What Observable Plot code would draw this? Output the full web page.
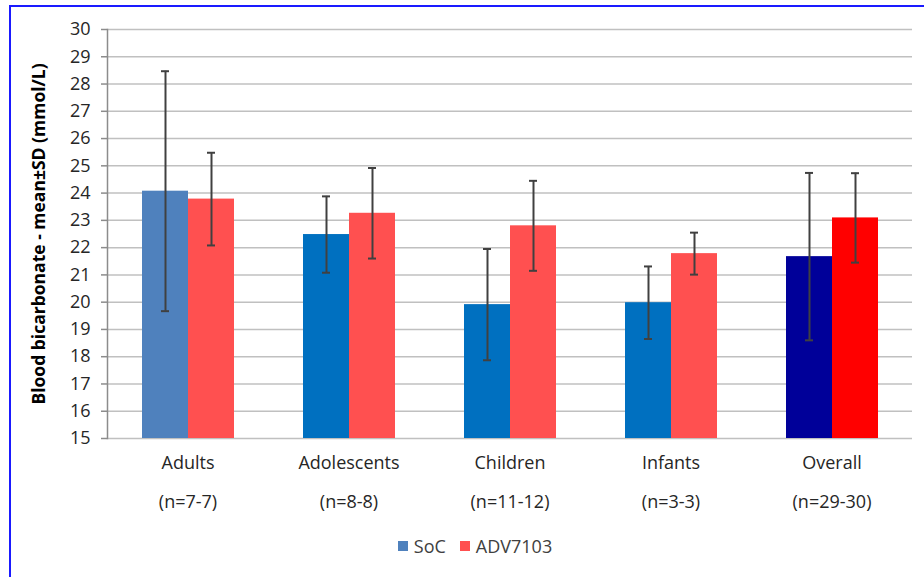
<!DOCTYPE html>
<html>
<head>
<meta charset="utf-8">
<script src="https://cdn.jsdelivr.net/npm/d3@7"></script>
<script src="https://cdn.jsdelivr.net/npm/@observablehq/plot@0.6"></script>
<style>
  html, body { margin: 0; padding: 0; background: #fff; width: 924px; height: 577px; overflow: hidden; }
  #border { position: absolute; left: 9px; top: 5px; width: 940px; height: 600px; border: 2px solid #1a1aff; box-sizing: border-box; }
  #chart { position: absolute; left: 0; top: 0; }
  #chart svg [aria-label="y-axis label"] { font-weight: bold; font-size: 17.5px; fill: #000; }
  #legend { position: absolute; top: 534px; left: 0; width: 924px; display: flex; justify-content: center; gap: 14px;
            font-family: "Open Sans", "Liberation Sans", sans-serif; font-size: 18px; color: #404040; padding-left: 26px; box-sizing: border-box; }
  .item { display: flex; align-items: center; gap: 6px; }
  .sw { width: 10px; height: 10px; display: inline-block; }
</style>
</head>
<body>
<div id="border"></div>
<div id="chart"></div>
<div id="legend"></div>
<script>
const categories = ["Adults", "Adolescents", "Children", "Infants", "Overall"];
const nLabels = ["(n=7-7)", "(n=8-8)", "(n=11-12)", "(n=3-3)", "(n=29-30)"];
const series = ["SoC", "ADV7103"];
const socMean = [24.07, 22.48, 19.91, 19.98, 21.67];
const socSD = [4.40, 1.40, 2.04, 1.33, 3.07];
const advMean = [23.78, 23.26, 22.80, 21.78, 23.09];
const advSD = [1.70, 1.66, 1.65, 0.77, 1.64];
const yTicks = [15, 16, 17, 18, 19, 20, 21, 22, 23, 24, 25, 26, 27, 28, 29, 30];
const yLabel = "Blood bicarbonate - mean±SD (mmol/L)";

const socColors = ["#4F81BD", "#0070C0", "#0070C0", "#0070C0", "#000099"];
const advColors = ["#FF5050", "#FF5050", "#FF5050", "#FF5050", "#FF0000"];
const legendColors = ["#4F81BD", "#FF5050"];

const rows = [];
categories.forEach((c, i) => {
  rows.push({cat: c, series: series[0], mean: socMean[i], sd: socSD[i], color: socColors[i]});
  rows.push({cat: c, series: series[1], mean: advMean[i], sd: advSD[i], color: advColors[i]});
});

const font = "'Open Sans', 'Liberation Sans', sans-serif";
const errColor = "#404040";

const chart = Plot.plot({
  width: 924,
  height: 525,
  marginLeft: 107,
  marginRight: 12,
  marginTop: 29,
  marginBottom: 87,
  style: {fontFamily: font, fontSize: "18px", color: "#404040", background: "transparent"},
  fx: {domain: categories, padding: 0, axis: null, label: null},
  x: {domain: series, paddingInner: 0, paddingOuter: 0.75, axis: null},
  y: {domain: [15, 30], axis: null},
  color: {type: "identity"},
  marks: [
    Plot.ruleY(yTicks, {y: d => d, stroke: "#c0c0c0", strokeWidth: 1.5}),
    Plot.barY(rows, {fx: "cat", x: "series", y1: 15, y2: "mean", fill: "color"}),
    Plot.ruleX(rows, {fx: "cat", x: "series", y1: d => d.mean - d.sd, y2: d => d.mean + d.sd, stroke: errColor, strokeWidth: 2}),
    Plot.tickY(rows, {fx: "cat", x: "series", y: d => d.mean + d.sd, insetLeft: 19, insetRight: 19, stroke: errColor, strokeWidth: 2}),
    Plot.tickY(rows, {fx: "cat", x: "series", y: d => d.mean - d.sd, insetLeft: 19, insetRight: 19, stroke: errColor, strokeWidth: 2}),
    Plot.frame({anchor: "left", facetAnchor: "left", stroke: "#8c8c8c", strokeWidth: 1.5}),
    Plot.axisY({ticks: yTicks, tickSize: 6, tickPadding: 11, stroke: "#8c8c8c", strokeWidth: 1.5, fill: "#262626",
                fontSize: 18, label: yLabel, labelArrow: "none", labelAnchor: "center", labelOffset: 75}),
    Plot.axisFx({anchor: "bottom", tickSize: 0, tickPadding: 18, label: null, fill: "#262626", fontSize: 18}),
    Plot.axisFx({anchor: "bottom", tickSize: 0, tickPadding: 57, label: null, fill: "#262626", fontSize: 18,
                 tickFormat: d => nLabels[categories.indexOf(d)]})
  ]
});
document.getElementById("chart").append(chart);

const legend = document.getElementById("legend");
series.forEach((s, i) => {
  const item = document.createElement("span");
  item.className = "item";
  item.innerHTML = `<span class="sw" style="background:${legendColors[i]}"></span><span>${s}</span>`;
  legend.append(item);
});
</script>
</body>
</html>
